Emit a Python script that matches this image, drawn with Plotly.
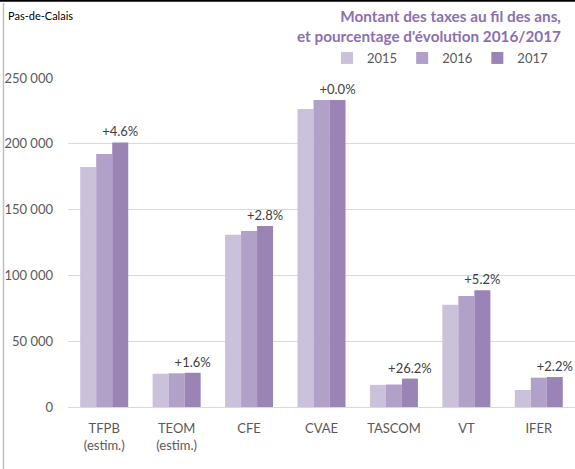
import plotly.graph_objects as go

categories = ["TFPB<br>(estim.)", "TEOM<br>(estim.)", "CFE", "CVAE", "TASCOM", "VT", "IFER"]
values_2015 = [182400, 25300, 130900, 226400, 16800, 77700, 12900]
values_2016 = [192200, 25600, 133800, 233300, 17100, 84300, 22300]
values_2017 = [201000, 26000, 137600, 233300, 21600, 88700, 22800]
pct_labels = ["+4.6%", "+1.6%", "+2.8%", "+0.0%", "+26.2%", "+5.2%", "+2.2%"]
years = ["2015", "2016", "2017"]
y_ticks = [0, 50000, 100000, 150000, 200000, 250000]

colors = ["#CCC1DA", "#B1A0C7", "#9A84B6"]
FONT = "Lato"

fig = go.Figure()
for name, vals, col in zip(years, [values_2015, values_2016, values_2017], colors):
    kw = {}
    if name == "2017":
        kw = dict(text=pct_labels, textposition="outside", texttemplate="%{text}",
                  constraintext="none",
                  textfont=dict(family=FONT, size=13, color="#404040"), cliponaxis=False)
    fig.add_trace(go.Bar(x=categories, y=vals, name=name, marker=dict(color=col, line=dict(width=0)), **kw))

W, H = 575, 469
L, R, T, B = 68, 0, 78, 62
PW, PH = W - L - R, H - T - B


def px(xp):
    return (xp - L) / PW


def py(yp):
    return (H - B - yp) / PH


fig.update_layout(
    width=W, height=H,
    margin=dict(l=L, r=R, t=T, b=B, pad=0, autoexpand=False),
    paper_bgcolor="white", plot_bgcolor="white",
    barmode="group", bargap=0.337, bargroupgap=0,
    separators=", ",
    font=dict(family=FONT, size=13, color="#595959"),
    legend=dict(orientation="h", xanchor="right", x=px(553),
                yanchor="middle", y=py(58),
                font=dict(family=FONT, size=13, color="#595959"),
                bgcolor="rgba(0,0,0,0)", traceorder="normal"),
    showlegend=True,
    xaxis=dict(showgrid=False, showline=False, ticks="", ticklabelstandoff=12,
               tickfont=dict(family=FONT, size=13, color="#595959")),
    yaxis=dict(range=[0, 250000], tickvals=y_ticks, tickformat=",d", showgrid=True,
               gridcolor="#D9D9D9", gridwidth=1, zeroline=True, zerolinecolor="#D9D9D9",
               zerolinewidth=1, showline=False, ticks="", ticklabelstandoff=14,
               tickfont=dict(family=FONT, size=13, color="#595959")),
    annotations=[
        dict(text="Pas-de-Calais", xref="paper", yref="paper",
             x=px(6), y=py(16), xanchor="left", yanchor="middle", showarrow=False,
             font=dict(family=FONT, size=11, color="#000000")),
        dict(text="<b>Montant des taxes au fil des ans,<br>et pourcentage d'évolution 2016/2017</b>",
             xref="paper", yref="paper", x=px(563), y=py(5), xanchor="right", yanchor="top",
             align="right", showarrow=False,
             font=dict(family=FONT, size=15.3, color="#8B6FB3")),
    ],
    shapes=[
        dict(type="line", xref="paper", yref="paper",
             x0=px(0), x1=px(W), y0=py(0.8), y1=py(0.8),
             line=dict(color="#000000", width=2)),
        dict(type="line", xref="paper", yref="paper",
             x0=px(3.5), x1=px(3.5), y0=py(3), y1=py(H),
             line=dict(color="#BFBFBF", width=1.5)),
    ],
)

fig.write_html("out.html", config={"displayModeBar": False},
               post_script="document.body.style.margin='0';document.body.style.padding='0';")
